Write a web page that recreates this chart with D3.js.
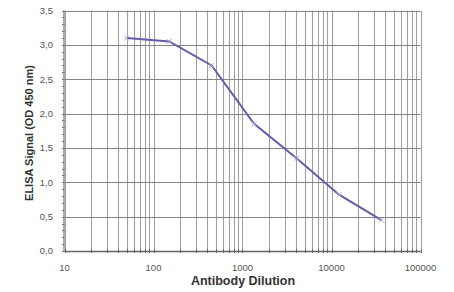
<!DOCTYPE html>
<html><head><meta charset="utf-8">
<script src="https://cdn.jsdelivr.net/npm/d3@7"></script>
<style>body{margin:0;background:#fff}svg{display:block}</style>
</head><body>
<svg id="c" width="454" height="292"></svg>
<script>
const dilutions = [50, 150, 450, 1350, 4050, 12150, 36450];
const signals = [3.10, 3.05, 2.70, 1.85, 1.35, 0.82, 0.45];
const xTickLabels = [10, 100, 1000, 10000, 100000];
const yTickValues = [0, 0.5, 1.0, 1.5, 2.0, 2.5, 3.0, 3.5];
const xTitle = "Antibody Dilution";
const yTitle = "ELISA Signal (OD 450 nm)";

const svg = d3.select("#c");
const m = {l: 64.5, r: 420.5, t: 10.5, b: 251};
const x = d3.scaleLog().domain([10, 100000]).range([m.l, m.r]);
const y = d3.scaleLinear().domain([0, 3.5]).range([m.b, m.t]);

// vertical grid at every log tick
const minor = [];
for (let d = 10; d < 100000; d *= 10) for (let k = 1; k <= 9; k++) minor.push(d * k);
minor.push(100000);
svg.append("g").selectAll("line").data(minor).join("line")
  .attr("x1", d => Math.round(x(d)) + 0.5).attr("x2", d => Math.round(x(d)) + 0.5)
  .attr("y1", m.t).attr("y2", m.b)
  .attr("stroke", "#a0a0a0").attr("stroke-width", 1.1);
// horizontal grid
svg.append("g").selectAll("line").data(yTickValues).join("line")
  .attr("x1", m.l).attr("x2", m.r)
  .attr("y1", d => Math.round(y(d)) + 0.5).attr("y2", d => Math.round(y(d)) + 0.5)
  .attr("stroke", "#858585").attr("stroke-width", 1.2);

// y minor ticks
const yMinor = d3.range(0, 35.01, 1).map(v => v / 10);
svg.append("g").selectAll("line").data(yMinor).join("line")
  .attr("x1", m.l - 2.5).attr("x2", m.l)
  .attr("y1", d => Math.round(y(d)) + 0.5).attr("y2", d => Math.round(y(d)) + 0.5)
  .attr("stroke", "#777");
// x minor ticks
svg.append("g").selectAll("line").data(minor).join("line")
  .attr("x1", d => Math.round(x(d)) + 0.5).attr("x2", d => Math.round(x(d)) + 0.5)
  .attr("y1", m.b - 2).attr("y2", m.b + 2)
  .attr("stroke", "#666");

// axis lines
svg.append("line").attr("x1", m.l - 0.5).attr("x2", m.l - 0.5).attr("y1", m.t).attr("y2", m.b)
  .attr("stroke", "#777").attr("stroke-width", 1.2);
svg.append("line").attr("x1", m.l).attr("x2", m.r).attr("y1", m.b + 0.5).attr("y2", m.b + 0.5)
  .attr("stroke", "#666").attr("stroke-width", 1.4);

// tick labels
const fmt = d3.format(".1f");
svg.append("g").selectAll("text").data(yTickValues).join("text")
  .attr("x", 53).attr("y", d => y(d)).attr("dy", "0.35em")
  .attr("text-anchor", "end").attr("font-family", "Liberation Sans, Arial, sans-serif")
  .attr("font-size", 9.5).attr("fill", "#555")
  .text(d => fmt(d).replace(".", ","));
svg.append("g").selectAll("text").data(xTickLabels).join("text")
  .attr("x", d => x(d)).attr("y", 268).attr("dy", "0.35em")
  .attr("text-anchor", "middle").attr("font-family", "Liberation Sans, Arial, sans-serif")
  .attr("font-size", 9.5).attr("fill", "#555")
  .text(d => d);

// titles
svg.append("text").attr("x", 243).attr("y", 285).attr("text-anchor", "middle")
  .attr("font-family", "Liberation Sans, Arial, sans-serif").attr("font-weight", "bold")
  .attr("font-size", 12.5).attr("fill", "#333").text(xTitle);
svg.append("text").attr("transform", "translate(33,133) rotate(-90)").attr("text-anchor", "middle")
  .attr("font-family", "Liberation Sans, Arial, sans-serif").attr("font-weight", "bold")
  .attr("font-size", 11).attr("fill", "#333").text(yTitle);

// line
const pts = dilutions.map((d, i) => [d, signals[i]]);
svg.append("path").datum(pts)
  .attr("d", d3.line().x(d => x(d[0])).y(d => y(d[1])))
  .attr("fill", "none").attr("stroke", "#635ea6").attr("stroke-width", 2);
// markers
const s = 2.5;
svg.append("g").selectAll("path").data(pts).join("path")
  .attr("d", d => `M${x(d[0]) - s},${y(d[1]) - s}L${x(d[0]) + s},${y(d[1]) + s}M${x(d[0]) - s},${y(d[1]) + s}L${x(d[0]) + s},${y(d[1]) - s}`)
  .attr("stroke", "#b0a8dc").attr("stroke-width", 1).attr("fill", "none");
</script>
</body></html>
